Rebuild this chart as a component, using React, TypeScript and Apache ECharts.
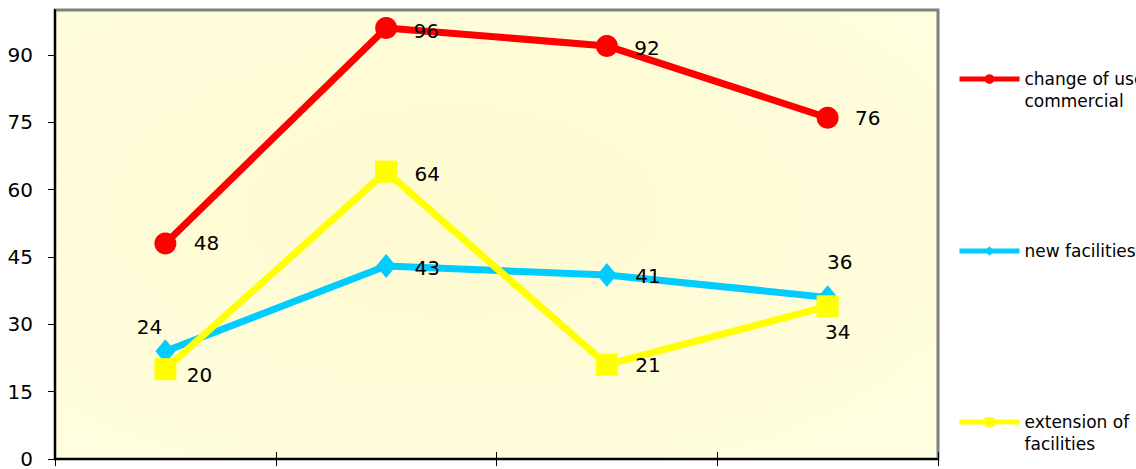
import React, { useEffect, useRef } from "react";
import * as echarts from "echarts";

const categories = ["A", "B", "C", "D"];
const seriesNames = ["change of use to\ncommercial", "new facilities", "extension of\nfacilities"];
const changeOfUse = [48, 96, 92, 76];
const newFacilities = [24, 43, 41, 36];
const extension = [20, 64, 21, 34];
const yTicks = [0, 15, 30, 45, 60, 75, 90];

// label offsets (px, relative to point centre) – styling only
const redOffsets = [[41, 0], [40, 3], [40, 2], [40, 0]];
const blueOffsets = [[-16, -24], [41, 2], [41, 1], [12, -35]];
const yellowOffsets = [[34, 6], [41, 2], [41, 0], [10, 26]];

const FONT = "DejaVu Sans";

function withLabels(values: number[], offsets: number[][]) {
  return values.map((v, i) => ({
    value: v,
    label: { offset: offsets[i] },
  }));
}

export default function App() {
  const ref = useRef<HTMLDivElement>(null);
  useEffect(() => {
    if (!ref.current) return;
    const chart = echarts.init(ref.current, null, { renderer: "svg" });
    const labelBase = {
      show: true,
      position: "inside",
      align: "center",
      verticalAlign: "middle",
      color: "#000",
      fontFamily: FONT,
      fontSize: 20,
    };
    const legendBase = {
      orient: "vertical",
      left: 957,
      padding: 0,
      itemWidth: 60,
      itemHeight: 12,
      itemGap: 5,
      selectedMode: false,
      lineStyle: { width: 5 },
      // an empty first line keeps the first text line level with the icon
      formatter: (name: string) => (name.indexOf("\n") >= 0 ? "\n" + name : name),
      textStyle: { fontFamily: FONT, fontSize: 17, color: "#000", lineHeight: 22 },
    };
    chart.setOption({
      animation: false,
      grid: {
        left: 55,
        top: 10,
        right: 198,
        bottom: 3,
        show: true,
        borderColor: "#808080",
        borderWidth: 3,
        backgroundColor: {
          type: "radial",
          x: 0.45,
          y: 0.45,
          r: 0.8,
          colorStops: [
            { offset: 0, color: "#FEFAD0" },
            { offset: 1, color: "#FFFEE0" },
          ],
        },
      },
      legend: [
        { ...legendBase, top: 46, data: [seriesNames[0]] },
        { ...legendBase, top: 240, data: [seriesNames[1]] },
        { ...legendBase, top: 389, data: [seriesNames[2]] },
      ],
      xAxis: [
        {
          type: "category",
          data: categories,
          position: "bottom",
          axisLine: { lineStyle: { color: "#000", width: 2 } },
          axisTick: { show: true, length: 7, lineStyle: { color: "#000" } },
          axisLabel: { show: false },
          splitLine: { show: false },
        },
        {
          type: "category",
          data: categories,
          position: "bottom",
          axisLine: { show: false },
          axisTick: { show: true, inside: true, length: 7, lineStyle: { color: "#000" } },
          axisLabel: { show: false },
          splitLine: { show: false },
        },
      ],
      yAxis: {
        type: "value",
        min: 0,
        max: 100,
        interval: 15,
        axisLine: { show: true, lineStyle: { color: "#000", width: 2 } },
        axisTick: { show: true, length: 7, lineStyle: { color: "#000" }, customValues: yTicks },
        axisLabel: {
          customValues: yTicks,
          margin: 22,
          color: "#000",
          fontFamily: FONT,
          fontSize: 20,
        },
        splitLine: { show: false },
      },
      series: [
        {
          name: seriesNames[0],
          type: "line",
          data: withLabels(changeOfUse, redOffsets),
          symbol: "circle",
          symbolSize: 22,
          lineStyle: { color: "#FF0000", width: 7 },
          itemStyle: { color: "#FF0000" },
          label: labelBase,
          z: 2,
        },
        {
          name: seriesNames[1],
          type: "line",
          data: withLabels(newFacilities, blueOffsets),
          symbol: "diamond",
          symbolSize: [20, 24],
          lineStyle: { color: "#00CCFF", width: 7 },
          itemStyle: { color: "#00CCFF" },
          label: labelBase,
          z: 3,
        },
        {
          name: seriesNames[2],
          type: "line",
          data: withLabels(extension, yellowOffsets),
          symbol: "rect",
          symbolSize: 22,
          lineStyle: { color: "#FFFF00", width: 7 },
          itemStyle: { color: "#FFFF00" },
          label: labelBase,
          z: 4,
        },
      ],
    });
    return () => chart.dispose();
  }, []);
  return (
    <div
      ref={ref}
      style={{ position: "fixed", left: 0, top: 0, width: 1136, height: 469, background: "#fff" }}
    />
  );
}
